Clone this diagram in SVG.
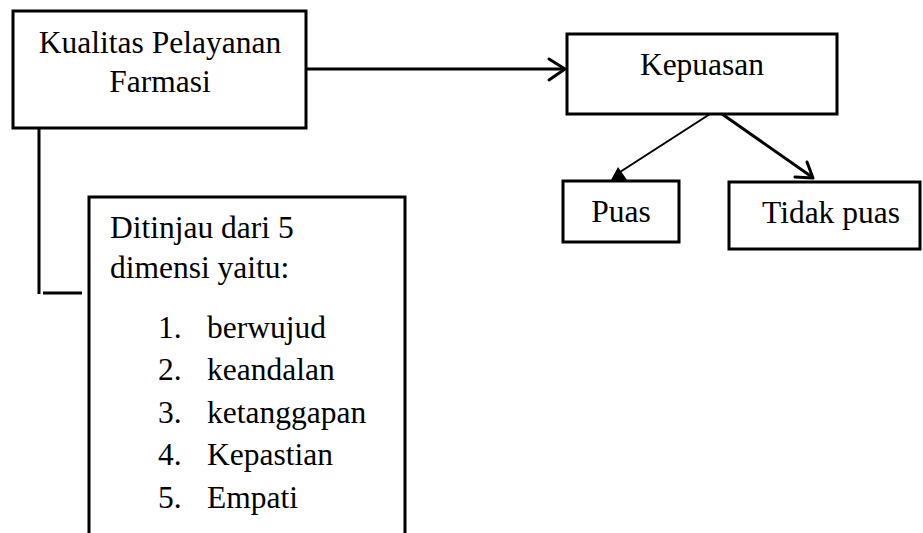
<svg xmlns="http://www.w3.org/2000/svg" width="923" height="533" viewBox="0 0 923 533">
<style>
.box{fill:#fff;stroke:#000;stroke-width:3}
.t{font-family:"Liberation Serif","Times New Roman",serif;font-size:31.5px;fill:#000}
.c{text-anchor:middle}
.ln{fill:none;stroke:#000;stroke-width:3}
</style>
<rect width="923" height="533" fill="#fff"/>
<g id="connectors">
<line class="ln" x1="306" y1="69" x2="564" y2="69"/>
<polyline class="ln" points="549,59 565,69 549,80" stroke-linecap="round" stroke-linejoin="round"/>
<line class="ln" x1="39" y1="128" x2="39" y2="294"/>
<line class="ln" x1="43" y1="293" x2="82" y2="293"/>
<line x1="710" y1="114" x2="620" y2="172" stroke="#000" stroke-width="2"/>
<polygon points="618,167 611,180 627,180" fill="#000"/>
<line class="ln" x1="722" y1="114" x2="812" y2="177"/>
<polyline class="ln" points="807,162 813,178 795,177" stroke-linecap="round" stroke-linejoin="round"/>
</g>
<g id="kualitas">
<rect class="box" x="13" y="11" width="293" height="117"/>
<text class="t c" x="160" y="53">Kualitas Pelayanan</text>
<text class="t c" x="160" y="92">Farmasi</text>
</g>
<g id="kepuasan">
<rect class="box" x="567" y="34" width="270" height="80"/>
<text class="t c" x="702" y="75">Kepuasan</text>
</g>
<g id="puas">
<rect class="box" x="563" y="181" width="116" height="61"/>
<text class="t c" x="621" y="222">Puas</text>
</g>
<g id="tidak-puas">
<rect class="box" x="729" y="182" width="191" height="67"/>
<text class="t" x="762" y="223">Tidak puas</text>
</g>
<g id="dimensi">
<path class="box" d="M89,540 V197 H405 V540"/>
<text class="t" x="110" y="238">Ditinjau dari 5</text>
<text class="t" x="110" y="278">dimensi yaitu:</text>
<text class="t" x="158" y="338">1.</text><text class="t" x="207" y="338">berwujud</text>
<text class="t" x="158" y="380">2.</text><text class="t" x="207" y="380">keandalan</text>
<text class="t" x="158" y="423">3.</text><text class="t" x="207" y="423">ketanggapan</text>
<text class="t" x="158" y="465">4.</text><text class="t" x="207" y="465">Kepastian</text>
<text class="t" x="158" y="508">5.</text><text class="t" x="207" y="508">Empati</text>
</g>
</svg>
